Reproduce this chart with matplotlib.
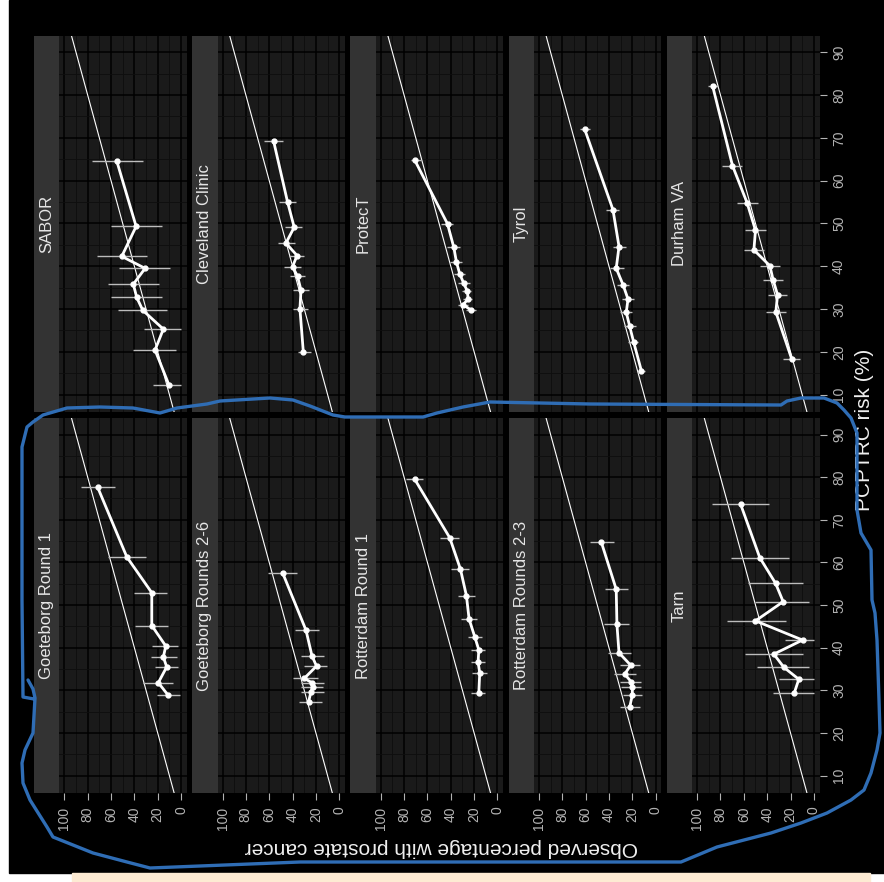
import matplotlib

matplotlib.use("Agg")
import matplotlib.pyplot as plt
from matplotlib.patches import Rectangle
from matplotlib.ticker import MultipleLocator

plt.rcParams["font.family"] = ["Liberation Sans", "DejaVu Sans"]

# facet order as it appears in the (rotated) picture
top_cohorts = ["SABOR", "Cleveland Clinic", "ProtecT", "Tyrol", "Durham VA"]
bottom_cohorts = ["Goeteborg Round 1", "Goeteborg Rounds 2-6", "Rotterdam Round 1",
                  "Rotterdam Rounds 2-3", "Tarn"]

# per cohort: predicted PCPTRC risk (%), observed % with cancer, CI low / high
sabor_risk = [64.6, 49.3, 42.3, 39.5, 35.8, 32.7, 29.7, 25.3, 20.4, 12.2]
sabor_obs = [55.1, 38.5, 50.8, 30.8, 40.9, 38.0, 32.8, 15.2, 22.3, 10.3]
sabor_lo = [32.6, 16.5, 29.3, 9.4, 18.9, 16.5, 12.3, 0.0, 4.3, 0.0]
sabor_hi = [76.5, 60.0, 72.2, 53.1, 62.8, 60.0, 54.3, 31.4, 40.8, 23.7]

cleveland_risk = [69.3, 55.0, 49.1, 45.4, 42.5, 39.9, 37.6, 34.4, 30.0, 20.0]
cleveland_obs = [56.3, 44.3, 38.6, 45.7, 36.2, 40.0, 35.7, 32.8, 33.7, 30.8]
cleveland_lo = [48.6, 37.1, 32.0, 37.7, 30.0, 32.8, 29.4, 25.7, 27.2, 24.3]
cleveland_hi = [64.3, 52.0, 46.3, 52.9, 43.4, 47.1, 42.2, 40.0, 40.0, 35.7]

protect_risk = [64.8, 49.9, 44.4, 40.9, 38.2, 36.0, 34.1, 32.3, 31.0, 29.7]
protect_obs = [70.9, 42.8, 37.4, 35.1, 32.3, 28.9, 25.7, 25.2, 29.5, 22.3]
protect_lo = [65.1, 38.0, 32.3, 30.0, 28.0, 23.7, 22.3, 21.4, 25.2, 18.6]
protect_hi = [73.7, 48.0, 43.2, 40.3, 37.4, 33.8, 30.0, 29.5, 33.8, 26.6]

tyrol_risk = [72.0, 53.2, 44.6, 39.5, 35.7, 32.3, 29.2, 26.0, 22.3, 15.6]
tyrol_obs = [60.8, 36.6, 31.4, 33.8, 28.0, 23.7, 25.2, 22.3, 18.9, 12.3]
tyrol_lo = [56.5, 31.4, 25.7, 27.4, 22.9, 18.6, 20.0, 17.1, 15.2, 9.4]
tyrol_hi = [65.0, 42.3, 36.6, 38.9, 33.2, 28.6, 30.3, 27.4, 23.7, 15.2]

durham_risk = [82.2, 63.5, 54.8, 48.4, 43.8, 40.1, 36.8, 33.3, 29.3, 18.4]
durham_obs = [86.8, 69.7, 57.2, 50.0, 51.4, 37.7, 34.9, 31.1, 32.6, 19.1]
durham_lo = [82.0, 61.4, 48.2, 41.4, 42.6, 28.9, 26.8, 22.9, 24.3, 12.0]
durham_hi = [90.6, 79.1, 66.2, 59.1, 59.7, 46.3, 43.4, 39.2, 41.1, 26.3]

goet1_risk = [77.6, 61.3, 52.9, 45.2, 40.4, 37.8, 35.5, 31.8, 28.8]
goet1_obs = [71.4, 46.5, 25.1, 25.1, 13.1, 15.2, 12.3, 19.5, 10.9]
goet1_lo = [56.6, 30.3, 11.7, 11.4, 2.3, 3.2, 2.3, 7.1, 0.9]
goet1_hi = [85.7, 62.3, 40.0, 39.4, 24.6, 25.7, 22.3, 32.3, 20.8]

goet26_risk = [57.6, 44.1, 38.1, 35.7, 32.8, 31.8, 30.9, 29.6, 27.3]
goet26_obs = [48.6, 28.5, 23.4, 19.5, 30.0, 23.4, 22.9, 24.3, 26.3]
goet26_lo = [36.2, 17.7, 12.9, 10.5, 18.6, 12.9, 13.7, 12.9, 14.8]
goet26_hi = [61.4, 38.0, 32.8, 30.0, 40.0, 32.8, 32.8, 32.8, 34.9]

rott1_risk = [79.5, 65.8, 58.4, 52.2, 46.7, 42.6, 39.5, 36.6, 34.1, 29.3]
rott1_obs = [70.9, 40.9, 31.7, 26.6, 24.3, 19.5, 16.0, 16.6, 15.2, 16.0]
rott1_lo = [63.8, 33.2, 24.3, 19.5, 17.5, 12.9, 10.3, 10.9, 9.4, 10.3]
rott1_hi = [78.0, 49.4, 39.4, 33.8, 31.4, 25.2, 22.3, 22.9, 21.4, 22.3]

rott23_risk = [64.8, 53.7, 45.5, 38.8, 35.9, 33.8, 32.0, 30.7, 28.9, 26.0]
rott23_obs = [46.6, 33.8, 33.2, 31.4, 21.4, 26.6, 20.9, 20.0, 20.0, 22.3]
rott23_lo = [36.0, 23.7, 22.9, 20.9, 13.2, 17.1, 12.3, 12.3, 11.5, 13.2]
rott23_hi = [56.6, 43.7, 44.3, 40.9, 30.8, 36.0, 30.8, 29.5, 28.0, 30.8]

tarn_risk = [73.7, 61.1, 55.1, 50.8, 46.3, 41.8, 38.5, 35.4, 32.6, 29.3]
tarn_obs = [62.8, 46.3, 32.8, 26.3, 50.0, 9.7, 34.3, 25.7, 12.9, 16.9]
tarn_lo = [38.6, 21.2, 9.2, 4.3, 24.3, 0.0, 9.7, 4.0, 0.0, 0.0]
tarn_hi = [87.1, 71.4, 56.8, 50.6, 74.8, 24.9, 59.1, 48.6, 30.0, 35.4]

risk_ticks = [10, 20, 30, 40, 50, 60, 70, 80, 90]
obs_ticks = [0, 20, 40, 60, 80, 100]

cohorts = {
    "SABOR": (sabor_risk, sabor_obs, sabor_lo, sabor_hi),
    "Cleveland Clinic": (cleveland_risk, cleveland_obs, cleveland_lo, cleveland_hi),
    "ProtecT": (protect_risk, protect_obs, protect_lo, protect_hi),
    "Tyrol": (tyrol_risk, tyrol_obs, tyrol_lo, tyrol_hi),
    "Durham VA": (durham_risk, durham_obs, durham_lo, durham_hi),
    "Goeteborg Round 1": (goet1_risk, goet1_obs, goet1_lo, goet1_hi),
    "Goeteborg Rounds 2-6": (goet26_risk, goet26_obs, goet26_lo, goet26_hi),
    "Rotterdam Round 1": (rott1_risk, rott1_obs, rott1_lo, rott1_hi),
    "Rotterdam Rounds 2-3": (rott23_risk, rott23_obs, rott23_lo, rott23_hi),
    "Tarn": (tarn_risk, tarn_obs, tarn_lo, tarn_hi),
}

# freehand blue outline drawn over the picture (pixel coords)
outline_x = [28, 33, 35, 33, 25, 22, 23, 30, 47, 53, 93, 127, 150, 300, 584, 681, 717,
             771, 801, 827, 851, 864, 871, 877, 880, 879, 877, 875, 872, 871, 861, 857,
             857, 851, 844, 837, 824, 801, 787, 781, 590, 490, 463, 437, 423, 345, 333,
             310, 293, 270, 220, 207, 177, 160, 133, 100, 67, 43, 33, 27, 22, 22, 23, 34]
outline_y = [680, 689, 698, 733, 750, 763, 783, 800, 827, 837, 853, 862, 868, 862, 862,
             862, 847, 833, 823, 813, 800, 790, 773, 750, 733, 700, 640, 613, 600, 550,
             533, 510, 433, 418, 410, 403, 398, 398, 401, 405, 404, 402, 407, 413, 417,
             417, 415, 406, 400, 398, 401, 404, 408, 413, 408, 407, 408, 415, 422, 427,
             447, 600, 697, 699]

W, H = 884, 882
STRIP_W, PANEL_W, PERIOD, X0 = 25.3, 127.5, 158.2, 34
ROWS = [(36, 411.7), (418.3, 792.7)]
RISK_LIM = (6.0, 93.8)
OBS_LIM = (104.3, -4.9)

BG_PANEL = "#1a1a1a"
BG_STRIP = "#333333"
TICK_COL = "#b3b3b3"


def px_rect(x0, y0, x1, y1):
    return [x0 / W, 1 - y1 / H, (x1 - x0) / W, (y1 - y0) / H]


def draw_panel(fig, name, row, col):
    top, bottom = ROWS[row]
    sx = X0 + col * PERIOD
    px = sx + STRIP_W

    # strip on the left of each panel
    sax = fig.add_axes(px_rect(sx, top, px, bottom))
    sax.set_facecolor(BG_STRIP)
    sax.set_xticks([])
    sax.set_yticks([])
    for s in sax.spines.values():
        s.set_visible(False)
    sax.text(0.5, 0.5, name, rotation=90, ha="center", va="center",
             color="#e6e6e6", fontsize=12, transform=sax.transAxes)

    ax = fig.add_axes(px_rect(px, top, px + PANEL_W, bottom))
    ax.set_facecolor(BG_PANEL)
    for s in ax.spines.values():
        s.set_visible(False)
    ax.set_xlim(OBS_LIM)
    ax.set_ylim(RISK_LIM)
    ax.set_xticks(obs_ticks)
    ax.set_yticks(risk_ticks)
    ax.xaxis.set_minor_locator(MultipleLocator(10))
    ax.yaxis.set_minor_locator(MultipleLocator(5))
    ax.set_axisbelow(True)
    ax.grid(which="major", color="black", lw=1.1)
    ax.grid(which="minor", color="#0e0e0e", lw=0.6)
    ax.tick_params(which="minor", length=0)

    if row == 1:
        ax.tick_params(axis="x", which="major", length=5, width=0.8, color=TICK_COL,
                       labelcolor=TICK_COL, labelsize=10, pad=5, labelrotation=90)
    else:
        ax.tick_params(axis="x", which="major", length=0, labelbottom=False)
    if col == 4:
        ax.yaxis.tick_right()
        ax.tick_params(axis="y", which="major", length=5, width=0.8, color=TICK_COL,
                       labelcolor=TICK_COL, labelsize=10, pad=4, labelrotation=90)
        for lab in ax.get_yticklabels():
            lab.set_va("center")
    else:
        ax.tick_params(axis="y", which="major", length=0, labelleft=False)

    risk, obs, lo, hi = cohorts[name]
    ax.axline((0, 0), (1, 1), color="white", lw=0.8, zorder=2)
    ax.hlines(risk, lo, hi, color="#bdbdbd", lw=1.0, zorder=3)
    ax.plot(obs, risk, color="white", lw=2.0, marker="o", ms=3.5, zorder=4)


fig = plt.figure(figsize=(W / 100, H / 100), dpi=100)
fig.patch.set_facecolor("white")
fig.add_artist(Rectangle((9 / W, 1 - 873 / H), 1 - 9 / W, 873 / H,
                         transform=fig.transFigure, color="black", zorder=-10))
fig.add_artist(Rectangle((72 / W, 0), (870 - 72) / W, 9 / H,
                         transform=fig.transFigure, color="#fdebd3", zorder=-10))

for i, name in enumerate(top_cohorts):
    draw_panel(fig, name, 0, i)
for i, name in enumerate(bottom_cohorts):
    draw_panel(fig, name, 1, i)

fig.text(441.5 / W, 1 - 847 / H, "Observed percentage with prostate cancer",
         rotation=180, ha="center", va="center", color="#f0f0f0", fontsize=15)
fig.text(865 / W, 1 - 430 / H, "PCPTRC risk (%)",
         rotation=90, ha="center", va="center", color="#f0f0f0", fontsize=15)

over = fig.add_axes([0, 0, 1, 1], zorder=10)
over.set_xlim(0, W)
over.set_ylim(H, 0)
over.axis("off")
over.patch.set_alpha(0)
over.plot(outline_x, outline_y, color="#2f6db5", lw=2.4, solid_capstyle="round",
          solid_joinstyle="round")

fig.savefig("out.png", dpi=100)
